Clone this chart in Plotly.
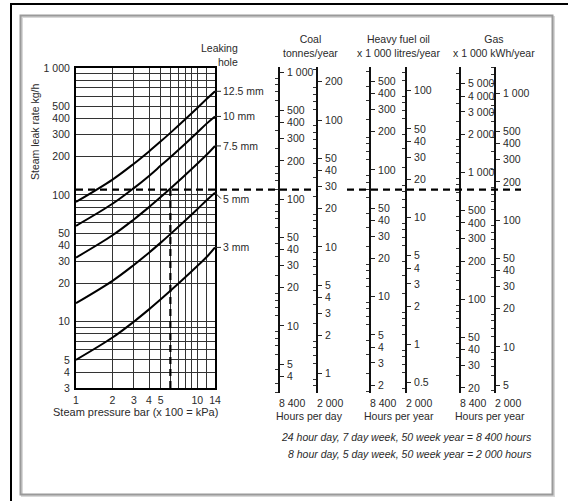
import math
import plotly.graph_objects as go

W, H = 568, 501

# ---------------- data ----------------
pressure_bar = [1, 2, 3, 4, 5, 6, 8, 10, 12, 14]
hole_labels = ["3 mm", "5 mm", "7.5 mm", "10 mm", "12.5 mm"]
leak_3mm = [5.0, 7.5, 10, 12.5, 15, 17.5, 22.5, 27.5, 32.5, 38.5]
leak_5mm = [14, 21, 28, 35, 42, 49, 63, 77, 91, 104]
leak_7_5mm = [32, 48, 64, 80, 96, 112, 144, 176, 208, 243]
leak_10mm = [57, 85, 113, 141, 170, 198, 254, 310, 366, 415]
leak_12_5mm = [88, 132, 176, 220, 264, 308, 396, 484, 572, 655]
hole_curves = [leak_3mm, leak_5mm, leak_7_5mm, leak_10mm, leak_12_5mm]

example_pressure = 6      # bar
example_leak = 110        # kg/h

steam_ticks = [3, 4, 5, 10, 20, 30, 40, 50, 100, 200, 300, 400, 500, 1000]
steam_grid = [6, 7, 8, 9, 60, 70, 80, 90, 600, 700, 800, 900]
pressure_ticks = [1, 2, 3, 4, 5, 10, 14]
pressure_grid = [6, 7, 8, 9, 12]

# nomogram scales: tick values and conversion factor per kg/h of steam leak
coal_8400_ticks = [1000, 500, 400, 300, 200, 100, 50, 40, 30, 20, 10, 5, 4]
coal_2000_ticks = [200, 100, 50, 40, 30, 20, 10, 5, 4, 3, 2, 1]
oil_8400_ticks = [500, 400, 300, 200, 100, 50, 40, 30, 20, 10, 5, 4, 3, 2]
oil_2000_ticks = [100, 50, 40, 30, 20, 10, 5, 4, 3, 2, 1, 0.5]
gas_8400_ticks = [5000, 4000, 3000, 2000, 1000, 500, 400, 300, 200, 100, 50, 40, 30, 20]
gas_2000_ticks = [1000, 500, 400, 300, 200, 100, 50, 40, 30, 20, 10, 5]

coal_8400_factor = 1.08
coal_2000_factor = 0.257
oil_8400_factor = 0.635
oil_2000_factor = 0.151
gas_8400_factor = 6.65
gas_2000_factor = 1.58

hours_labels = ["8 400", "2 000"]

# ---------------- layout helpers ----------------
FONT = "Liberation Sans, Arial, sans-serif"
TXT = "#2a2a2a"


def fx(p):
    return p / W


def fy(p):
    return 1 - p / H


def fmt(v):
    if v >= 1000:
        return f"{int(v):,}".replace(",", " ")
    if v < 1:
        return f"{v:g}"
    return str(int(v))


MAIN_L, MAIN_R, MAIN_T, MAIN_B = 76, 215, 68, 388
SCALE_T, SCALE_B = 67, 393
y_lo, y_hi = math.log10(3), 3.0
dec_px = (MAIN_B - MAIN_T) / (y_hi - y_lo)


def steam_log_at(py):
    return y_hi - (py - MAIN_T) / dec_px


fig = go.Figure()

# hole curves
for lab, vals in zip(hole_labels, hole_curves):
    fig.add_trace(go.Scatter(x=pressure_bar, y=vals, mode="lines",
                             line=dict(color="black", width=2, shape="spline"),
                             hoverinfo="skip", showlegend=False))

# vertical dashed example line
fig.add_trace(go.Scatter(x=[example_pressure, example_pressure], y=[3, example_leak],
                         mode="lines", line=dict(color="black", width=2.2, dash="7px,5px"),
                         hoverinfo="skip", showlegend=False))

fig.update_layout(
    width=W, height=H, margin=dict(l=0, r=0, t=0, b=0, autoexpand=False),
    paper_bgcolor="white", plot_bgcolor="white",
    font=dict(family=FONT, size=10.5, color=TXT),
    xaxis=dict(type="log", domain=[fx(MAIN_L), fx(MAIN_R)], range=[0, math.log10(14)],
               tickvals=pressure_ticks, ticktext=[str(v) for v in pressure_ticks],
               showgrid=True, gridcolor="#333", gridwidth=1,
               minor=dict(tickvals=pressure_grid, showgrid=True, gridcolor="#333", gridwidth=1, ticks=""),
               showline=True, mirror=True, linecolor="black", linewidth=2,
               ticks="", zeroline=False, tickfont=dict(size=10.5), automargin=False,
               ticklabelstandoff=1),
    yaxis=dict(type="log", domain=[fy(MAIN_B), fy(MAIN_T)], range=[y_lo, y_hi],
               tickvals=steam_ticks, ticktext=[fmt(v) for v in steam_ticks],
               showgrid=True, gridcolor="#333", gridwidth=1,
               minor=dict(tickvals=steam_grid, showgrid=True, gridcolor="#333", gridwidth=1, ticks=""),
               showline=True, mirror=True, linecolor="black", linewidth=2,
               ticks="", zeroline=False, tickfont=dict(size=10.5), ticklabelstandoff=2,
               automargin=False),
)

# nomogram scales
scale_specs = [
    (coal_8400_ticks, coal_8400_factor, 278),
    (coal_2000_ticks, coal_2000_factor, 316),
    (oil_8400_ticks, oil_8400_factor, 369),
    (oil_2000_ticks, oil_2000_factor, 405),
    (gas_8400_ticks, gas_8400_factor, 459),
    (gas_2000_ticks, gas_2000_factor, 494),
]
mantissas = [1, 1.2, 1.4, 1.6, 1.8, 2, 2.5, 3, 3.5, 4, 4.5, 5, 6, 7, 8, 9]

for i, (ticks, k, xpos) in enumerate(scale_specs):
    n = i + 2
    lo = math.log10(k) + steam_log_at(SCALE_B)
    hi = math.log10(k) + steam_log_at(SCALE_T)
    minors = []
    for d in range(math.floor(lo) - 1, math.ceil(hi) + 1):
        for m in mantissas:
            v = m * 10 ** d
            if lo <= math.log10(v) <= hi and all(abs(v - t) > 1e-9 * v for t in ticks):
                minors.append(v)
    fig.layout[f"xaxis{n}"] = dict(domain=[fx(xpos - 1), fx(xpos)], range=[0, 1], visible=False,
                                   automargin=False)
    fig.layout[f"yaxis{n}"] = dict(
        type="log", anchor=f"x{n}", side="right", domain=[fy(SCALE_B), fy(SCALE_T)],
        range=[lo, hi], tickvals=ticks, ticktext=[fmt(v) for v in ticks],
        ticks="outside", ticklen=4, tickwidth=1, tickcolor="#222",
        minor=dict(tickvals=minors, ticks="inside", ticklen=3, tickwidth=1, tickcolor="#333", showgrid=False),
        showline=True, linecolor="#111", linewidth=2, showgrid=False, zeroline=False,
        tickfont=dict(size=10.5), ticklabelstandoff=1, automargin=False,
    )
    fig.add_trace(go.Scatter(x=[0.5] * len(ticks), y=ticks, xaxis=f"x{n}", yaxis=f"y{n}",
                             mode="markers", marker=dict(opacity=0, size=1),
                             hoverinfo="skip", showlegend=False))
    fig.add_annotation(x=fx(xpos - 1), y=fy(403), xref="paper", yref="paper",
                       text=hours_labels[i % 2], showarrow=False, xanchor="left", yanchor="middle",
                       font=dict(size=10.5))

# horizontal dashed example line across the scales
for x0, x1 in [(MAIN_L, 318), (347, 521)]:
    fig.add_shape(type="line", xref="paper", yref="y", x0=fx(x0), x1=fx(x1),
                  y0=example_leak, y1=example_leak,
                  line=dict(color="black", width=2.2, dash="7px,5px"))

# hole labels at curve ends
for lab, vals in zip(hole_labels, hole_curves):
    fig.add_annotation(x=math.log10(pressure_bar[-1]), y=math.log10(vals[-1]), xref="x", yref="y",
                       text=lab, showarrow=True, arrowhead=0, arrowwidth=1, arrowcolor="#222",
                       ax=6, ay=(6 if lab == "5 mm" else 0), xanchor="left", yanchor="middle",
                       standoff=0, font=dict(size=10.5))

texts = [
    ("Leaking<br>hole", 240, 55, "right", "right", False, 10.5),
    ("Coal<br>tonnes/year", 310, 46, "center", "center", False, 10.5),
    ("Heavy fuel oil<br>x 1 000 litres/year", 398, 46, "center", "center", False, 10.5),
    ("Gas<br>x 1 000 kWh/year", 494, 46, "center", "center", False, 10.5),
    ("Steam pressure bar (x 100 = kPa)", 135, 412, "center", "center", False, 11),
    ("Hours per day", 309, 416, "center", "center", False, 10.5),
    ("Hours per year", 399, 416, "center", "center", False, 10.5),
    ("Hours per year", 490, 416, "center", "center", False, 10.5),
    ("24 hour day, 7 day week, 50 week year = 8 400 hours", 534, 437, "right", "right", True, 10.5),
    ("8 hour day, 5 day week, 50 week year = 2 000 hours", 534, 454, "right", "right", True, 10.5),
]
for t, xp, yp, xa, al, it, sz in texts:
    fig.add_annotation(x=fx(xp), y=fy(yp), xref="paper", yref="paper", text=(f"<i>{t}</i>" if it else t),
                       showarrow=False, xanchor=xa, yanchor="middle", align=al,
                       font=dict(size=sz))

fig.add_annotation(x=fx(35), y=fy(132), xref="paper", yref="paper", text="Steam leak rate kg/h",
                   textangle=-90, showarrow=False, xanchor="center", yanchor="middle", font=dict(size=10.5))

# frames
fig.add_shape(type="line", xref="paper", yref="paper", x0=fx(10), x1=1, y0=fy(4), y1=fy(4),
              line=dict(color="black", width=2))
fig.add_shape(type="line", xref="paper", yref="paper", x0=fx(11), x1=fx(11), y0=fy(3), y1=0,
              line=dict(color="black", width=2))
fig.add_shape(type="rect", xref="paper", yref="paper", x0=fx(22), x1=fx(554), y0=fy(17), y1=fy(496),
              line=dict(color="#d8d8d8", width=2))
fig.add_shape(type="rect", xref="paper", yref="paper", x0=fx(20.5), x1=fx(552.5), y0=fy(15.5), y1=fy(494.5),
              line=dict(color="#9a9a9a", width=2))

fig.write_html("out.html", config={"displayModeBar": False},
               post_script="document.body.style.margin='0';")
